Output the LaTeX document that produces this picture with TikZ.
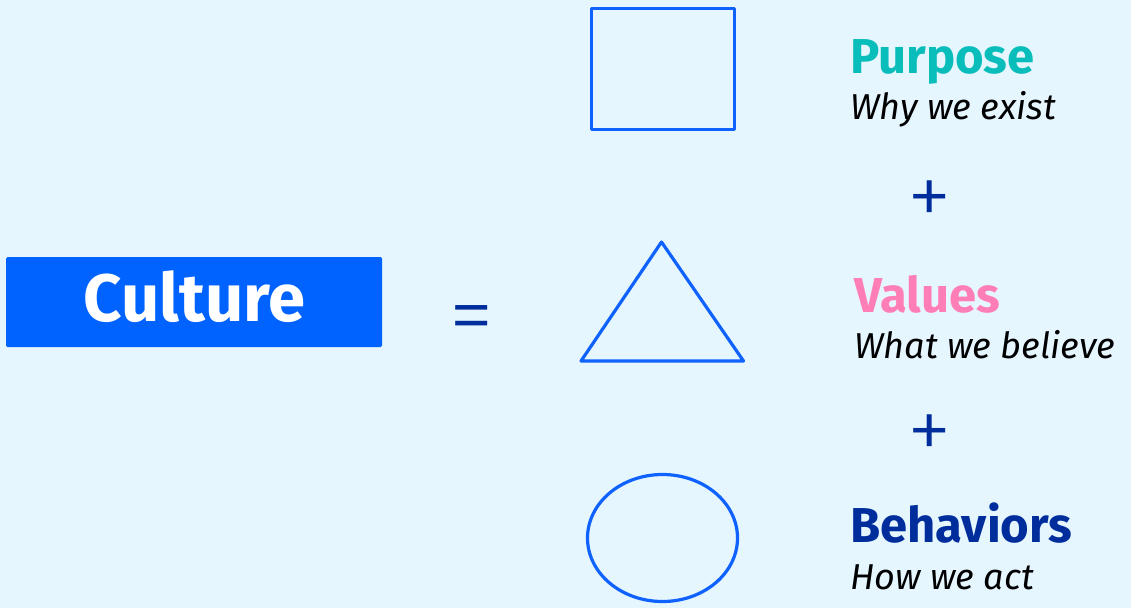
\documentclass[tikz,border=0pt]{standalone}
\usepackage{fontspec}
\setmainfont{Fira Sans}
\newfontfamily\opfont{Fira Sans Light}
\usepackage{xcolor}
\usetikzlibrary{calc}

\definecolor{bgcyan}{HTML}{E5F6FF}
\definecolor{boxblue}{HTML}{0062FF}
\definecolor{lineblue}{HTML}{0F62FE}
\definecolor{darkblue}{HTML}{002D9C}
\definecolor{tealtext}{HTML}{08BDBA}
\definecolor{pinktext}{HTML}{FF7EB6}

\begin{document}
\begin{tikzpicture}[
  x=1pt, y=-1pt,
  line cap=round,
  line join=round,
  outline/.style={draw=lineblue, line width=3.2pt},
  cultbox/.style={fill=boxblue, rounded corners=1.5pt, minimum width=376pt, minimum height=90pt, inner sep=0pt},
  heading/.style={anchor=base west, inner sep=0pt, font=\bfseries\fontsize{49}{59}\selectfont},
  caption/.style={anchor=base west, inner sep=0pt, font=\itshape\fontsize{36}{43}\selectfont},
  operator/.style={text=darkblue, inner sep=0pt, font=\opfont\fontsize{90}{98}\selectfont}
]
  % Background
  \fill[bgcyan] (0,0) rectangle (1131,608);
  \useasboundingbox (0,0) rectangle (1131,608);

  % Left side of the equation
  \node[cultbox] (culture) at (194,302) {};
  \node[anchor=base, inner sep=0pt, text=white, font=\bfseries\fontsize{67}{80}\selectfont] (culturetext) at (194.5,321) {Culture};
  \node[operator] (equals) at (472,326) {=};

  % The three shapes
  \coordinate (sq1) at (591.5,8.5);
  \coordinate (sq2) at (734.5,129.5);
  \draw[outline] (sq1) rectangle (sq2);

  \coordinate (tr1) at (661.5,242);
  \coordinate (tr2) at (581,361);
  \coordinate (tr3) at (743.5,361);
  \draw[outline] (tr1) -- (tr2) -- (tr3) -- cycle;

  \coordinate (el) at (662.5,538);
  \draw[outline] (el) ellipse [x radius=75, y radius=63.5];

  % Labels
  \node[heading, text=tealtext] (purpose) at (850,73) {Purpose};
  \node[caption] (purposecap) at (850,119) {Why we exist};
  \node[operator] (plusA) at (930,204) {+};

  \node[heading, text=pinktext] (values) at (854,312) {Values};
  \node[caption] (valuescap) at (854,358) {What we believe};
  \node[operator] (plusB) at (930,438) {+};

  \node[heading, text=darkblue] (behaviors) at (850,542) {Behaviors};
  \node[caption] (behaviorscap) at (850,589) {How we act};
\end{tikzpicture}
\end{document}
